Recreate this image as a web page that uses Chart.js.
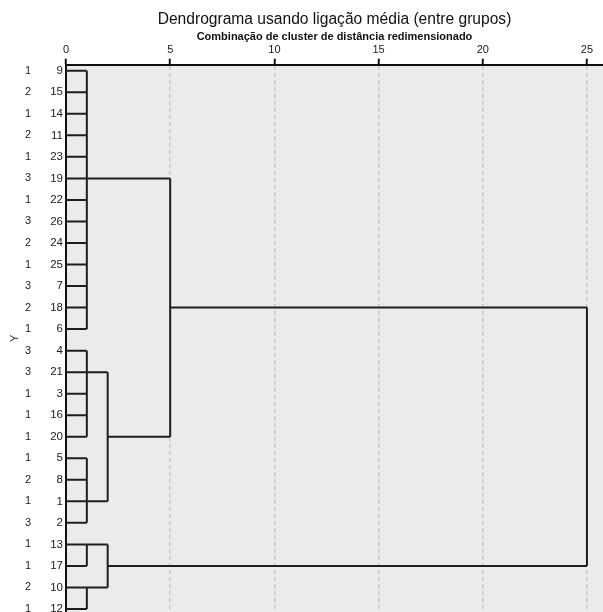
<!DOCTYPE html>
<html>
<head>
<meta charset="utf-8">
<script src="https://cdn.jsdelivr.net/npm/chart.js@4/dist/chart.umd.min.js"></script>
<style>
  body { margin: 0; background: #fff; }
  #wrap { width: 603px; height: 612px; }
</style>
</head>
<body>
<div id="wrap"><canvas id="dendro"></canvas></div>
<script>
// leaf order, top to bottom
const caseLabels = [9, 15, 14, 11, 23, 19, 22, 26, 24, 25, 7, 18, 6, 4, 21, 3, 16, 20, 5, 8, 1, 2, 13, 17, 10, 12];
const groupLabels = [1, 2, 1, 2, 1, 3, 1, 3, 2, 1, 3, 2, 1, 3, 3, 1, 1, 1, 1, 2, 1, 3, 1, 1, 2, 1];
const xTicks = [0, 5, 10, 15, 20, 25];

// node ids 0-25 are leaf rows, merge k becomes node 26 + k
const mergeChildren = [
    [0, 1, 2, 3, 4, 5, 6, 7, 8, 9, 10, 11, 12],
    [13, 14, 15, 16, 17],
    [18, 19, 20, 21],
    [22, 23],
    [24, 25],
    [27, 28],
    [29, 30],
    [26, 31],
    [33, 32]
];
const mergeDistance = [1, 1, 1, 1, 1, 2, 2, 5, 25];
const mergeRow = [5, 14, 20, 22, 24, 17, 23, 11, 17];

function buildSegments() {
    const nodes = caseLabels.map((c, i) => ({x: 0, y: i}));
    const segs = [];
    mergeChildren.forEach(function(kids, k) {
        const d = mergeDistance[k];
        const ys = kids.map(id => nodes[id].y);
        kids.forEach(function(id) {
            segs.push([{x: nodes[id].x, y: nodes[id].y}, {x: d, y: nodes[id].y}]);
        });
        segs.push([{x: d, y: Math.min(...ys)}, {x: d, y: Math.max(...ys)}]);
        nodes.push({x: d, y: mergeRow[k]});
    });
    return segs;
}

const FONT = "'Liberation Sans', Arial, sans-serif";
const rowTicks = caseLabels.map((c, i) => ({value: i}));

function noPad(s) {
    s.paddingTop = 0;
    s.paddingBottom = 0;
    s.paddingLeft = 0;
    s.paddingRight = 0;
}

const areaBg = {
    id: 'areaBg',
    beforeDraw(chart) {
        const {ctx, chartArea: a} = chart;
        ctx.save();
        ctx.fillStyle = '#fff';
        ctx.fillRect(0, 0, chart.width, chart.height);
        ctx.fillStyle = '#ebebeb';
        ctx.fillRect(a.left, a.top, a.right - a.left, a.bottom - a.top);
        ctx.restore();
    }
};

const datasets = buildSegments().map(s => ({
    data: s,
    showLine: true,
    borderColor: '#1e1e1e',
    borderWidth: 2,
    pointRadius: 0,
    fill: false,
    yAxisID: 'y'
}));

new Chart(document.getElementById('dendro').getContext('2d'), {
    type: 'scatter',
    data: {datasets: datasets},
    options: {
        responsive: true,
        maintainAspectRatio: false,
        animation: false,
        layout: {padding: 0},
        plugins: {
            legend: {display: false},
            tooltip: {enabled: false},
            title: {
                display: true,
                text: 'Dendrograma usando ligação média (entre grupos)',
                fullSize: false,
                color: '#111',
                font: {family: FONT, size: 15.6, weight: 'normal', lineHeight: 1.2},
                padding: {top: 10, bottom: 2}
            }
        },
        scales: {
            x: {
                type: 'linear',
                position: 'top',
                min: 0,
                max: 25.77,
                afterBuildTicks: s => { s.ticks = xTicks.map(v => ({value: v})); },
                afterFit: s => { s.height = 34; noPad(s); },
                ticks: {
                    color: '#222',
                    font: {family: FONT, size: 11},
                    padding: 2,
                    maxRotation: 0
                },
                grid: {
                    color: c => (c.tick && c.tick.value === 0) ? 'rgba(0,0,0,0)' : '#c8c8c8',
                    lineWidth: 1.5,
                    tickColor: '#111',
                    tickWidth: 2,
                    tickLength: 6
                },
                border: {display: true, color: '#111', width: 2, dash: [4, 3]},
                title: {
                    display: true,
                    text: 'Combinação de cluster de distância redimensionado',
                    color: '#111',
                    font: {family: FONT, size: 11, weight: 'bold', lineHeight: 1.2},
                    padding: {top: 0, bottom: 0}
                }
            },
            y: {
                type: 'linear',
                position: 'left',
                weight: 0,
                reverse: true,
                min: -0.28,
                max: 25.14,
                afterBuildTicks: s => { s.ticks = rowTicks.map(t => ({value: t.value})); },
                afterFit: s => { s.width = 26; noPad(s); },
                ticks: {
                    autoSkip: false,
                    padding: 3,
                    color: '#222',
                    font: {family: FONT, size: 11.5},
                    callback: v => caseLabels[v]
                },
                grid: {display: false, drawTicks: false},
                border: {display: true, color: '#111', width: 2}
            },
            yg: {
                type: 'linear',
                position: 'left',
                weight: 1,
                reverse: true,
                min: -0.28,
                max: 25.14,
                afterBuildTicks: s => { s.ticks = rowTicks.map(t => ({value: t.value})); },
                afterFit: s => { s.width = 40; noPad(s); },
                ticks: {
                    autoSkip: false,
                    padding: 9,
                    color: '#222',
                    font: {family: FONT, size: 11},
                    callback: v => groupLabels[v]
                },
                grid: {display: false, drawTicks: false},
                border: {display: false},
                title: {
                    display: true,
                    text: 'Y',
                    color: '#222',
                    font: {family: FONT, size: 11, lineHeight: 1.2},
                    padding: {top: 8, bottom: 0}
                }
            }
        }
    },
    plugins: [areaBg]
});
</script>
</body>
</html>
